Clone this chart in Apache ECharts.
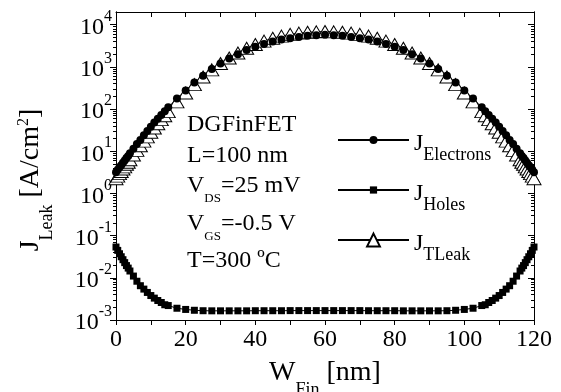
<!DOCTYPE html>
<html>
<head>
<meta charset="utf-8">
<script src="https://cdn.jsdelivr.net/npm/echarts@6/dist/echarts.min.js"></script>
<style>
html, body { margin: 0; background: #fff; }
#chart { width: 561px; height: 392px; }
</style>
</head>
<body>
<div id="chart"></div>
<script>
// fin width (nm) - finer steps near the fin edges
var wFin = [0, 0.5, 1, 1.5, 2, 2.5, 3, 3.5, 4, 5, 6, 7, 8, 9, 10, 11, 12, 13, 14, 15,
    17.5, 20, 22.5, 25, 27.5, 30, 32.5, 35, 37.5, 40, 42.5, 45, 47.5, 50, 52.5, 55, 57.5, 60,
    62.5, 65, 67.5, 70, 72.5, 75, 77.5, 80, 82.5, 85, 87.5, 90, 92.5, 95, 97.5, 100, 102.5, 105,
    106, 107, 108, 109, 110, 111, 112, 113, 114, 115, 116, 116.5, 117, 117.5, 118, 118.5, 119, 119.5, 120];

var jElectrons = [3.16, 3.63, 4.17, 4.68, 5.37, 6.03, 6.92, 7.76, 8.91, 11.5, 14.8, 18.6, 24.0, 30.2, 38.0, 47.9, 58.9, 72.4, 89.1, 110,
    178, 275, 427, 617, 891, 1202, 1585, 1995, 2512, 3020, 3467, 3981, 4467, 4786, 5129, 5495, 5623, 5754,
    5623, 5495, 5129, 4786, 4467, 3981, 3467, 3020, 2512, 1995, 1585, 1202, 891, 617, 427, 275, 178, 110,
    89.1, 72.4, 58.9, 47.9, 38.0, 30.2, 24.0, 18.6, 14.8, 11.5, 8.91, 7.76, 6.92, 6.03, 5.37, 4.68, 4.17, 3.63, 3.16];

var jHoles = [0.0537, 0.0447, 0.0372, 0.0316, 0.0269, 0.0229, 0.0195, 0.0170, 0.0145, 0.0110, 0.0083, 0.0065, 0.0054, 0.0045, 0.0038, 0.0033, 0.0029, 0.0026, 0.0023, 0.0022,
    0.0019, 0.00178, 0.0017, 0.00166, 0.00165, 0.00165, 0.00165, 0.00165, 0.00165, 0.00166, 0.00166, 0.00166, 0.00166, 0.00167, 0.00167, 0.00167, 0.00167, 0.00167,
    0.00167, 0.00167, 0.00167, 0.00167, 0.00166, 0.00166, 0.00166, 0.00166, 0.00165, 0.00165, 0.00165, 0.00165, 0.00165, 0.00166, 0.0017, 0.00178, 0.0019, 0.0022,
    0.0023, 0.0026, 0.0029, 0.0033, 0.0038, 0.0045, 0.0054, 0.0065, 0.0083, 0.0110, 0.0145, 0.0170, 0.0195, 0.0229, 0.0269, 0.0316, 0.0372, 0.0447, 0.0537];

var jTLeak = [2.24, 2.57, 2.95, 3.31, 3.80, 4.27, 4.90, 5.50, 6.31, 8.13, 10.5, 13.5, 17.4, 21.9, 28.2, 35.5, 44.7, 56.2, 69.2, 87.1,
    148, 240, 380, 575, 851, 1202, 1622, 2138, 2754, 3388, 4074, 4786, 5370, 5888, 6310, 6607, 6761, 6918,
    6761, 6607, 6310, 5888, 5370, 4786, 4074, 3388, 2754, 2138, 1622, 1202, 851, 575, 380, 240, 148, 87.1,
    69.2, 56.2, 44.7, 35.5, 28.2, 21.9, 17.4, 13.5, 10.5, 8.13, 6.31, 5.50, 4.90, 4.27, 3.80, 3.31, 2.95, 2.57, 2.24];

var xTicks = [0, 20, 40, 60, 80, 100, 120];
var yDecades = [0.001, 0.01, 0.1, 1, 10, 100, 1000, 10000];
var notes = ['DGFinFET', 'L=100 nm', 'V{sub|DS}=25 mV', 'V{sub|GS}=-0.5 V', 'T=300 ºC'];

var serif = 'Liberation Serif';

// minor ticks 2..9 inside every decade
var yMinor = [];
for (var d = 0; d < yDecades.length - 1; d++) {
    for (var k = 2; k <= 9; k++) yMinor.push(+(yDecades[d] * k).toPrecision(3));
}

function logAxis(pos, ticks, len, inside) {
    return {
        type: 'log',
        position: pos,
        min: 0.001,
        max: 20000,
        axisLine: { show: true, onZero: false, lineStyle: { color: '#000', width: 1 } },
        axisTick: { show: true, customValues: ticks, length: len, inside: inside, lineStyle: { color: '#000', width: 1 } },
        axisLabel: { show: false },
        splitLine: { show: false }
    };
}

// left axis with the decade labels
var yLeft = logAxis('left', yDecades, 6, false);
yLeft.axisLabel = {
    show: true,
    customValues: yDecades,
    margin: 4,
    hideOverlap: false,
    showMinLabel: true,
    showMaxLabel: true,
    formatter: function (v) {
        return '{b|10}{e|' + Math.round(Math.log10(v)) + '}';
    },
    rich: {
        b: { fontFamily: serif, fontSize: 24, color: '#000', padding: [6, 0, 0, 0] },
        e: { fontFamily: serif, fontSize: 16, color: '#000', padding: [0, 0, 16, 0] }
    }
};

function xAxis(pos, withLabels) {
    var ax = {
        type: 'value',
        position: pos,
        min: 0,
        max: 120,
        interval: 10,
        axisLine: { show: true, onZero: false, lineStyle: { color: '#000', width: 1 } },
        axisTick: { show: true, length: 5, inside: pos === 'top', lineStyle: { color: '#000', width: 1 } },
        axisLabel: { show: false },
        splitLine: { show: false }
    };
    if (withLabels) {
        ax.axisLabel = {
            show: true, customValues: xTicks, margin: 8,
            fontFamily: serif, fontSize: 24, color: '#000'
        };
        ax.name = '{w|W}{s|Fin}{w| [nm]}';
        ax.nameLocation = 'middle';
        ax.nameGap = 27;
        ax.nameMoveOverlap = false;
        ax.nameTextStyle = {
            rich: {
                w: { fontFamily: serif, fontSize: 28, color: '#000' },
                s: { fontFamily: serif, fontSize: 18, color: '#000', padding: [34, 0, 0, 0] }
            }
        };
    }
    return ax;
}

function pairs(vals) {
    return wFin.map(function (w, i) { return [w, vals[i]]; });
}

var legendRich = {
    j: { fontFamily: serif, fontSize: 24, color: '#000', padding: [8, 0, 0, 0] },
    s: { fontFamily: serif, fontSize: 18, color: '#000', padding: [30, 0, 0, 0] }
};

function legendAt(name, top, iconH) {
    return {
        data: [name],
        left: 337,
        top: top,
        padding: 0,
        itemWidth: 71,
        itemHeight: iconH,
        selectedMode: false,
        formatter: function (n) { return '{j|J}{s|' + n + '}'; },
        textStyle: { rich: legendRich }
    };
}

// annotation block + rotated y title
var graphics = notes.map(function (t, i) {
    var ys = [125, 156, 186, 224, 261];
    return {
        type: 'text',
        x: 187,
        y: ys[i],
        style: {
            text: t,
            fontFamily: serif,
            fontSize: 24,
            fill: '#000',
            verticalAlign: 'middle',
            rich: {
                sub: { fontFamily: serif, fontSize: 13, fill: '#000', padding: [26, 0, 0, 0] }
            }
        }
    };
});
graphics.push({
    type: 'text',
    x: 31,
    y: 180,
    rotation: Math.PI / 2,
    style: {
        text: '{j|J}{s|Leak}{j| [A/cm}{p|2}{j|]}',
        align: 'center',
        verticalAlign: 'middle',
        rich: {
            j: { fontFamily: serif, fontSize: 28, fill: '#000' },
            s: { fontFamily: serif, fontSize: 18, fill: '#000', padding: [32, 0, 0, 0] },
            p: { fontFamily: serif, fontSize: 16, fill: '#000', padding: [0, 0, 14, 0] }
        }
    }
});

var myChart = echarts.init(document.getElementById('chart'));

var option = {
    animation: false,
    backgroundColor: '#fff',
    grid: { left: 116, right: 27, top: 12, bottom: 72, outerBoundsMode: 'none' },
    xAxis: [xAxis('bottom', true), xAxis('top', false)],
    yAxis: [
        yLeft,
        logAxis('left', yMinor, 3, false),
        logAxis('right', yDecades, 6, true),
        logAxis('right', yMinor, 3, true)
    ],
    legend: [
        legendAt('Electrons', 132, 10),
        legendAt('Holes', 182, 9),
        legendAt('TLeak', 232, 16)
    ],
    graphic: graphics,
    series: [
        {
            name: 'TLeak', type: 'line', data: pairs(jTLeak),
            symbol: 'triangle', symbolSize: [14, 12],
            itemStyle: { color: '#fff', borderColor: '#000', borderWidth: 1 },
            lineStyle: { color: '#000', width: 1 }
        },
        {
            name: 'Electrons', type: 'line', data: pairs(jElectrons),
            symbol: 'circle', symbolSize: 8,
            itemStyle: { color: '#000' },
            lineStyle: { color: '#000', width: 1 }
        },
        {
            name: 'Holes', type: 'line', data: pairs(jHoles),
            symbol: 'rect', symbolSize: 7,
            itemStyle: { color: '#000' },
            lineStyle: { color: '#000', width: 1 }
        }
    ]
};

myChart.setOption(option);
</script>
</body>
</html>
